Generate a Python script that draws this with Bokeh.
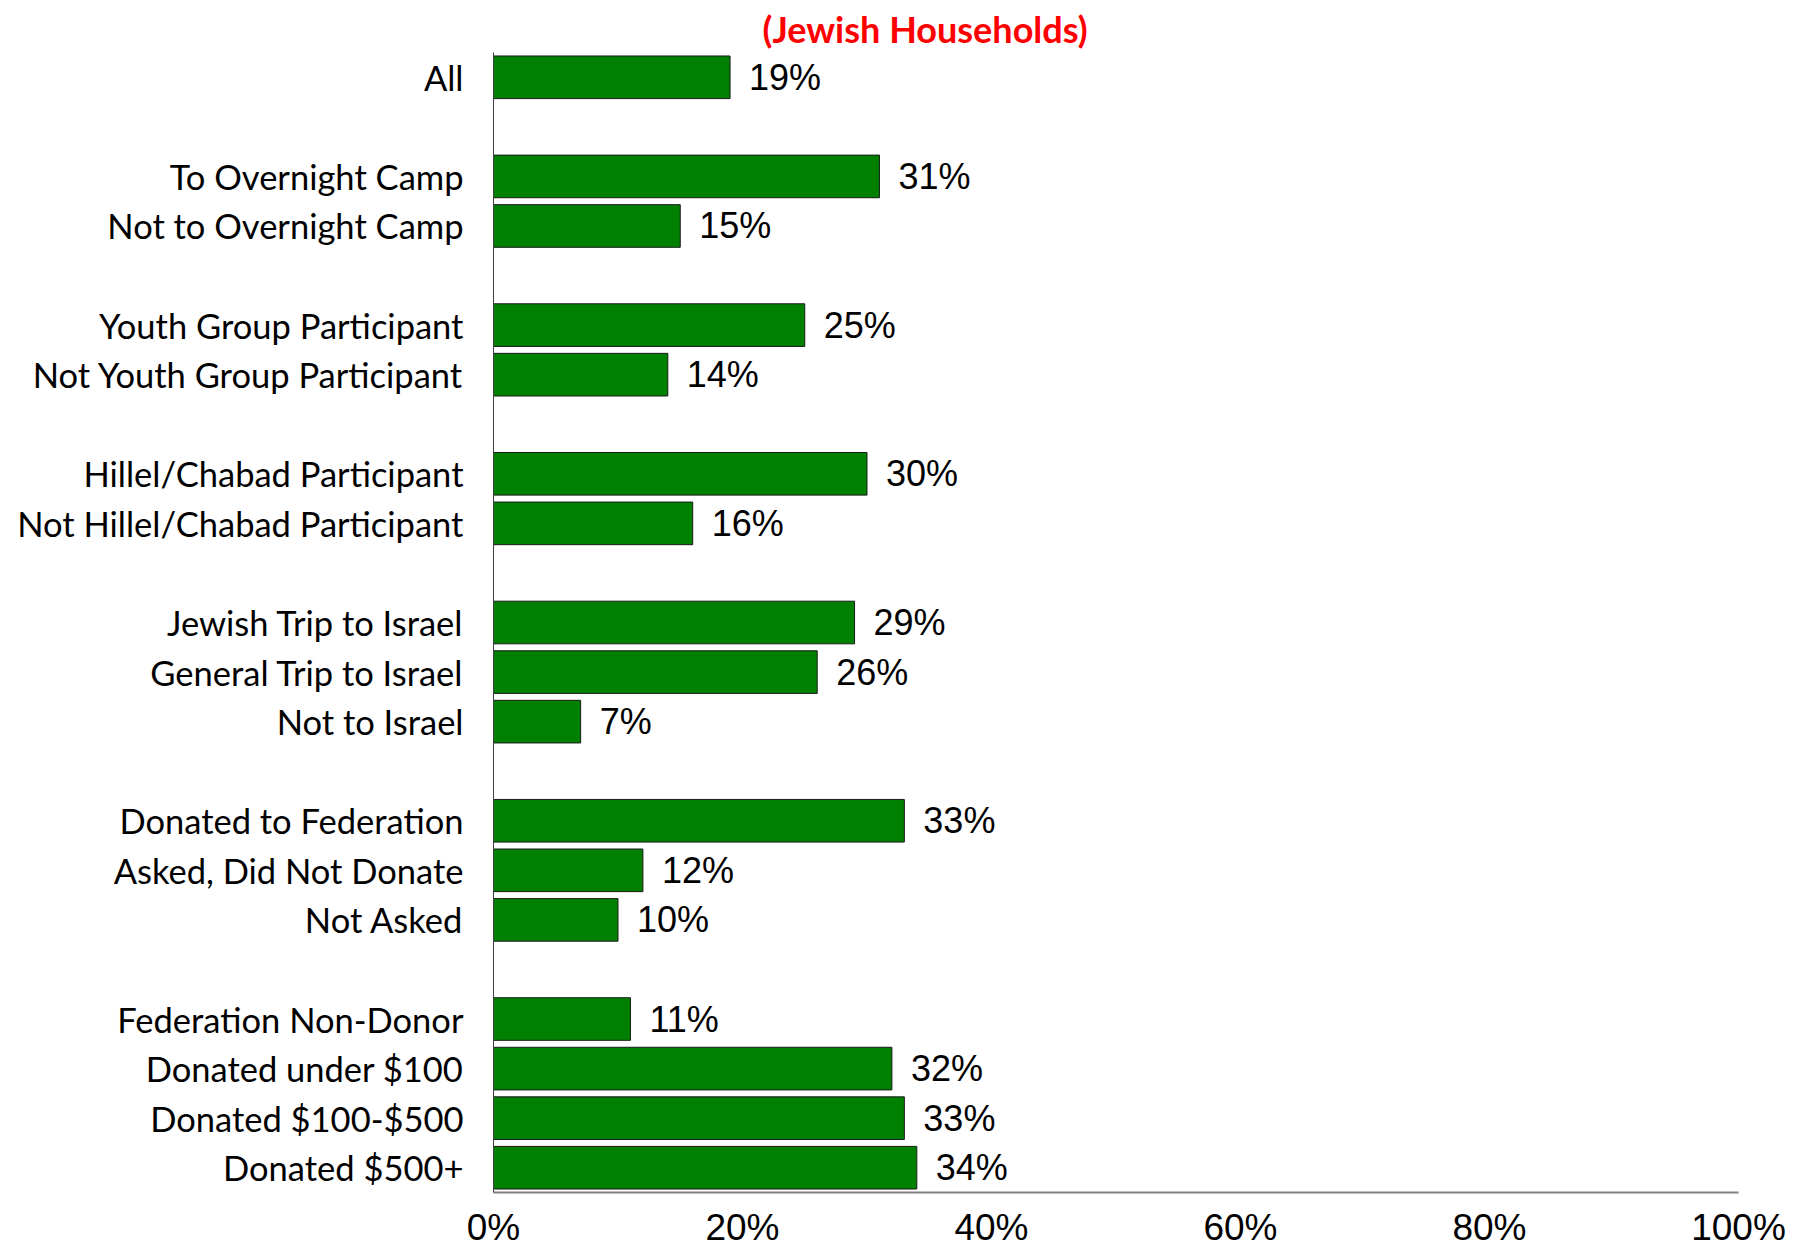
from bokeh.plotting import figure
from bokeh.models import Range1d, FixedTicker, Title, ColumnDataSource
from bokeh.core.properties import value
from bokeh.embed import file_html
from bokeh.resources import INLINE

categories = [
    "All",
    "To Overnight Camp", "Not to Overnight Camp",
    "Youth Group Participant", "Not Youth Group Participant",
    "Hillel/Chabad Participant", "Not Hillel/Chabad Participant",
    "Jewish Trip to Israel", "General Trip to Israel", "Not to Israel",
    "Donated to Federation", "Asked, Did Not Donate", "Not Asked",
    "Federation Non-Donor", "Donated under $100", "Donated $100-$500", "Donated $500+",
]
values = [19, 31, 15, 25, 14, 30, 16, 29, 26, 7, 33, 12, 10, 11, 32, 33, 34]
group_sizes = [1, 2, 2, 2, 3, 3, 4]
x_ticks = [0, 20, 40, 60, 80, 100]
title_text = "(Jewish Households)"

# slot positions: one empty slot between groups
positions = []
pos = 0
for g in group_sizes:
    for _ in range(g):
        positions.append(pos)
        pos += 1
    pos += 1
n_slots = positions[-1] + 1

src = ColumnDataSource(dict(y=positions, v=values, lab=[f"{v}%" for v in values]))

p = figure(width=1789, height=1250, output_backend="svg", toolbar_location=None,
           x_range=Range1d(0, 100), y_range=Range1d(n_slots - 0.5, -0.5),
           min_border_left=493, min_border_right=51, min_border_top=52, min_border_bottom=40)
p.outline_line_color = None
p.grid.visible = False
p.background_fill_color = "white"

p.hbar(y="y", left=0, right="v", height=0.86, source=src,
       fill_color="#008000", line_color="#1a1a1a", line_width=1)
p.text(x="v", y="y", text="lab", source=src, x_offset=19,
       text_baseline="middle", text_align="left",
       text_font=value("Liberation Sans"), text_font_size="36px", text_color="black")

# y axis
p.yaxis.ticker = FixedTicker(ticks=positions)
p.yaxis.major_label_overrides = {float(y): c for y, c in zip(positions, categories)}
p.yaxis.major_label_text_font = "Lato"
p.yaxis.major_label_text_font_size = "34.5px"
p.yaxis.major_label_text_color = "black"
p.yaxis.major_label_standoff = 24
p.yaxis.major_tick_line_color = None
p.yaxis.minor_tick_line_color = None
p.yaxis.axis_line_color = "#404040"
p.yaxis.axis_line_width = 1

# x axis
p.xaxis.ticker = FixedTicker(ticks=x_ticks)
p.xaxis.major_label_overrides = {float(t): f"{t}%" for t in x_ticks}
p.xaxis.major_label_text_font = "Liberation Sans"
p.xaxis.major_label_text_font_size = "37px"
p.xaxis.major_label_text_color = "black"
p.xaxis.major_label_standoff = 8
p.xaxis.major_tick_line_color = None
p.xaxis.minor_tick_line_color = None
p.xaxis.axis_line_color = "#808080"
p.xaxis.axis_line_width = 2

t = Title(text=title_text, align="left", offset=269, standoff=0, vertical_align="top",
          text_font="Lato", text_font_style="bold", text_font_size="36px",
          text_line_height=0.75, text_color="#ff0000")
p.add_layout(t, "above")

open("out.html", "w").write(file_html(p, INLINE))
